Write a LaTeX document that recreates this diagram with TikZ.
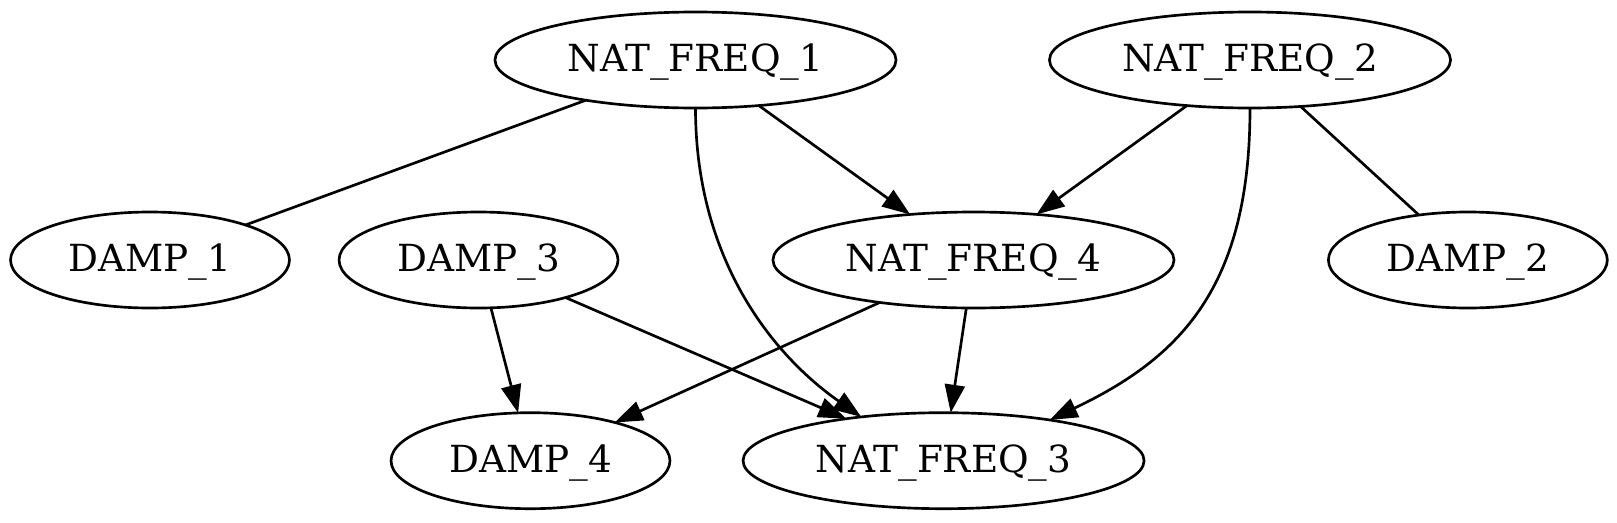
\documentclass[tikz,border=0pt]{standalone}
\usepackage{fontspec}
\setmainfont{DejaVu Serif}
\usetikzlibrary{arrows.meta, positioning, shapes.geometric}

\begin{document}
\begin{tikzpicture}[
  x=0.375pt, y=-0.375pt,
  >={Triangle[length=10.5pt, width=7.5pt]},
  line width=1pt,
  every node/.style={draw, ellipse, inner sep=0pt, outer sep=0pt, minimum height=36pt, text height=10.5pt, text depth=1.9pt, font=\fontsize{14}{16}\selectfont},
  damp/.style={minimum width=104.6pt},
  freq/.style={minimum width=150.4pt}
]
\useasboundingbox (0,0) rectangle (1617,522);

\node[freq] (nf1) at (695.5,60) {NAT\_FREQ\_1};
\node[freq] (nf2) at (1250,60) {NAT\_FREQ\_2};

\node[damp] (damp1) at (150,260) {DAMP\_1};
\node[damp] (damp3) [right=18.6pt of damp1] {DAMP\_3};
\node[freq] (nf4) [right=58.1pt of damp3] {NAT\_FREQ\_4};
\node[damp] (damp2) [right=57.9pt of nf4] {DAMP\_2};

\node[damp] (damp4) at (530.5,460.7) {DAMP\_4};
\node[freq] (nf3) [right=27.4pt of damp4] {NAT\_FREQ\_3};

\draw (nf1) -- (damp1);
\draw (nf2) -- (damp2);
\draw[->] (nf1) -- (nf4);
\draw[->] (nf2) -- (nf4);
\draw[->] (nf1.south) .. controls +(0,150) and +(-90,-63) .. (nf3.152);
\draw[->] (nf2.south) .. controls +(0,180) and +(130,-62) .. (nf3.21);
\draw[->] (damp3) -- (damp4);
\draw[->] (damp3) -- (nf3);
\draw[->] (nf4) -- (damp4);
\draw[->] (nf4) -- (nf3);
\end{tikzpicture}
\end{document}
